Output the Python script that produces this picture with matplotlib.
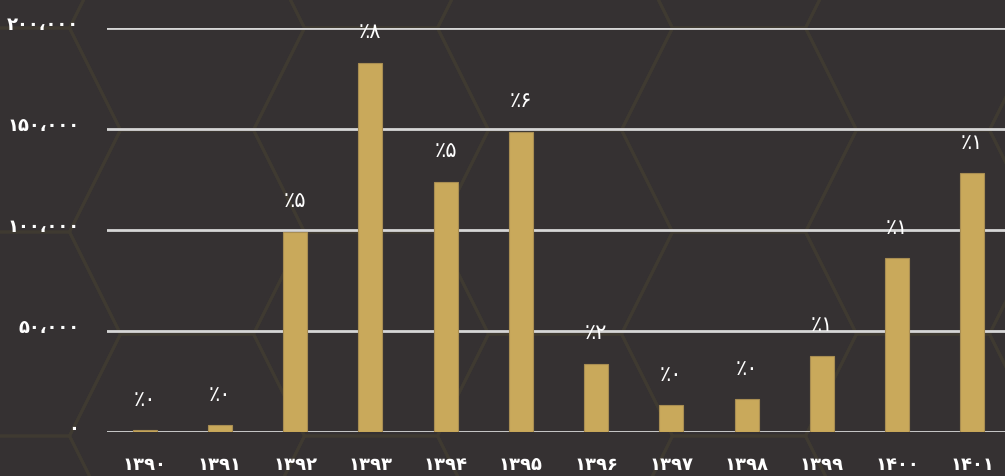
import numpy as np
import matplotlib.pyplot as plt
from matplotlib.lines import Line2D
from matplotlib.transforms import ScaledTranslation

plt.rcParams['font.family'] = ['DejaVu Sans']

years = ['۱۳۹۰', '۱۳۹۱', '۱۳۹۲', '۱۳۹۳', '۱۳۹۴', '۱۳۹۵',
         '۱۳۹۶', '۱۳۹۷', '۱۳۹۸', '۱۳۹۹', '۱۴۰۰', '۱۴۰۱']
values = [800, 3300, 99000, 182700, 123800, 148500,
          33700, 13200, 16200, 37600, 86100, 128000]
pct_labels = ['٪۰', '٪۰', '٪۵', '٪۸', '٪۵', '٪۶',
              '٪۲', '٪۰', '٪۰', '٪۱', '٪۱', '٪۱']
yticks = [0, 50000, 100000, 150000, 200000]
ytick_labels = ['۰', '۵۰،۰۰۰', '۱۰۰،۰۰۰', '۱۵۰،۰۰۰', '۲۰۰،۰۰۰']

bg = '#353132'
bar_color = '#c9a95b'

W, H = 1005, 476
fig = plt.figure(figsize=(W / 100, H / 100), dpi=100)
fig.patch.set_facecolor(bg)

# faint honeycomb background (pixel coords, y from top)
def px(x, y):
    return x / W, 1 - y / H

hw, hs, hh = 117.5, 66.5, 102
for k in range(-2, 8):
    cx = 187 + 184 * k
    cy0 = 232 if k % 2 == 0 else 130
    for j in range(-2, 4):
        cy = cy0 + 204 * j
        pts = [(cx - hw, cy), (cx - hs, cy - hh), (cx + hs, cy - hh),
               (cx + hw, cy), (cx + hs, cy + hh), (cx - hs, cy + hh),
               (cx - hw, cy)]
        xs, ys = zip(*[px(a, b) for a, b in pts])
        fig.add_artist(Line2D(xs, ys, color='#3f3a31', lw=2.2, zorder=0))

x0, x1 = 107, 1010
ytop, ybot = 28, 432
ax = fig.add_axes([x0 / W, (H - ybot) / H, (x1 - x0) / W, (ybot - ytop) / H])
ax.patch.set_alpha(0)

x = np.arange(len(years))
ax.bar(x, values, width=0.32, color=bar_color, edgecolor='#a88d52',
       linewidth=0.8, zorder=3)

for xi, v, lab in zip(x, values, pct_labels):
    ax.annotate(lab, (xi, v), xytext=(0, 22), textcoords='offset points',
                ha='center', va='center', color='white', fontsize=15,
                annotation_clip=False)

ax.set_xlim(-0.5, len(years) - 0.5)
ax.set_ylim(0, 200000)
ax.set_yticks(yticks)
ax.set_yticklabels(ytick_labels)
ax.set_xticks(x)
ax.set_xticklabels(years)
ax.tick_params(axis='both', length=0, colors='white', labelsize=13)
ax.tick_params(axis='y', pad=20)
ax.tick_params(axis='x', pad=17)
for lab in ax.get_xticklabels():
    lab.set_fontweight('bold')
# y labels sit a little above their gridlines
shift = ScaledTranslation(0, 5 / 100, fig.dpi_scale_trans)
for lab in ax.get_yticklabels():
    lab.set_fontweight('bold')
    lab.set_transform(lab.get_transform() + shift)

ax.grid(axis='y', color='#d6d6d6', lw=2, zorder=1)
ax.set_axisbelow(True)
for s in ax.spines.values():
    s.set_visible(False)

fig.savefig('out.png', dpi=100, facecolor=bg)
